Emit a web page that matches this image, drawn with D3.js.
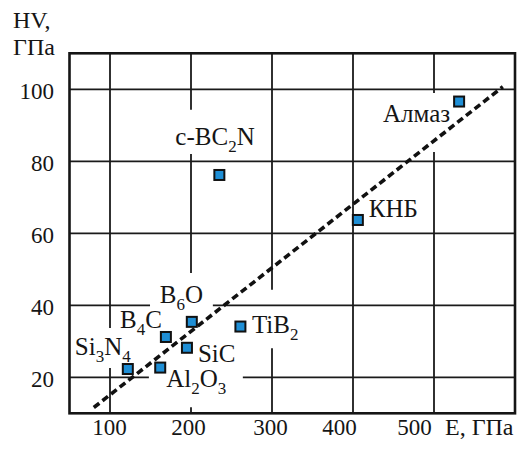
<!DOCTYPE html>
<html>
<head>
<meta charset="utf-8">
<script src="https://cdn.jsdelivr.net/npm/d3@7"></script>
<style>
  html, body { margin: 0; padding: 0; background: #fff; }
</style>
</head>
<body>
<svg id="chart" width="527" height="452"></svg>
<script>
// data
const names = ["Si3N4", "Al2O3", "B4C", "SiC", "B6O", "TiB2", "c-BC2N", "КНБ", "Алмаз"];
const modulusE = [122, 162, 169, 195, 201, 261, 235, 406, 531];
const hardnessHV = [22.3, 22.7, 31.2, 28.2, 35.4, 34.1, 76.2, 63.7, 96.6];
const trendE = [80, 585];
const trendHV = [11.6, 100.7];
const xTicks = [100, 200, 300, 400, 500];
const yTicks = [20, 40, 60, 80, 100];
// gridlines are broken where labels sit: [axis, value, from, to]
const gridBreaks = [
  ["x", 100, 22.6, 33.7],
  ["x", 200, 82, 94.3],
  ["x", 200, 11.7, 49],
  ["x", 300, 28.1, 44.3],
  ["x", 500, 82.6, 99],
  ["y", 40, 149.4, 227],
  ["y", 20, 148, 264]
];

const FONT = "Liberation Serif, Times New Roman, DejaVu Serif, Liberation Sans, sans-serif";
const INK = "#151515";

const svg = d3.select("#chart");
const x = d3.scaleLinear().domain([50, 600]).range([69.5, 515]);
const y = d3.scaleLinear().domain([10, 110]).range([413.3, 53.3]);

// label placement relative to the marker
const labelPos = {
  "Si3N4":  { dx: -53, dy: -14, anchor: "start" },
  "Al2O3":  { dx: 6, dy: 19.5, anchor: "start" },
  "B4C":    { dx: -4, dy: -9, anchor: "end" },
  "SiC":    { dx: 11, dy: 14, anchor: "start" },
  "B6O":    { dx: -32, dy: -19, anchor: "start" },
  "TiB2":   { dx: 11.5, dy: 6, anchor: "start" },
  "c-BC2N": { dx: -44, dy: -30, anchor: "start" },
  "КНБ":    { dx: 11, dy: -3, anchor: "start" },
  "Алмаз":  { dx: -9, dy: 20, anchor: "end" }
};

const points = names.map((n, i) => ({ name: n, e: modulusE[i], hv: hardnessHV[i] }));

// split one gridline into segments around its breaks
function segments(axis, v, lo, hi) {
  const br = gridBreaks.filter(b => b[0] === axis && b[1] === v).sort((a, b) => a[2] - b[2]);
  const out = [];
  let start = lo;
  br.forEach(b => { out.push([start, b[2]]); start = b[3]; });
  out.push([start, hi]);
  return out;
}

const grid = svg.append("g").attr("stroke", "#1a1a1a").attr("stroke-width", 1.8);
xTicks.forEach(t => {
  segments("x", t, 10, 110).forEach(s => {
    grid.append("line").attr("x1", x(t)).attr("x2", x(t)).attr("y1", y(s[0])).attr("y2", y(s[1]));
  });
});
yTicks.forEach(t => {
  segments("y", t, 50, 600).forEach(s => {
    grid.append("line").attr("y1", y(t)).attr("y2", y(t)).attr("x1", x(s[0])).attr("x2", x(s[1]));
  });
});

// frame
svg.append("rect")
  .attr("x", x(50)).attr("y", y(110))
  .attr("width", x(600) - x(50)).attr("height", y(10) - y(110))
  .attr("fill", "none").attr("stroke", INK).attr("stroke-width", 2.6);

// tick labels
const xShift = { 100: -1, 200: -3, 300: -2, 400: -14, 500: -20 };
const xAxis = svg.append("g").attr("transform", `translate(0,${y(10)})`)
  .call(d3.axisBottom(x).tickValues(xTicks).tickSize(0).tickPadding(0).tickFormat(d3.format("d")))
  .attr("font-family", FONT).attr("font-size", 23);
xAxis.select(".domain").remove();
xAxis.selectAll("text")
  .attr("fill", INK)
  .attr("y", 22).attr("dy", 0)
  .attr("dx", d => xShift[d]);

const yAxis = svg.append("g").attr("transform", `translate(54,0)`)
  .call(d3.axisLeft(y).tickValues(yTicks).tickSize(0).tickPadding(0).tickFormat(d3.format("d")))
  .attr("font-family", FONT).attr("font-size", 23);
yAxis.select(".domain").remove();
yAxis.selectAll("text")
  .attr("fill", INK)
  .attr("x", 0).attr("dy", "0.38em");

// axis titles
const titles = svg.append("g").attr("font-family", FONT).attr("font-size", 24).attr("fill", INK);
titles.append("text").attr("x", 13).attr("y", 28).text("HV,");
titles.append("text").attr("x", 13).attr("y", 55).text("ГПа");
titles.append("text").attr("x", 445).attr("y", 435).text("E, ГПа");

// trend line
svg.append("line")
  .attr("x1", x(trendE[0])).attr("y1", y(trendHV[0]))
  .attr("x2", x(trendE[1])).attr("y2", y(trendHV[1]))
  .attr("stroke", "#111").attr("stroke-width", 3.6)
  .attr("stroke-dasharray", "7,4");

// markers
svg.append("g").selectAll("rect").data(points).enter().append("rect")
  .attr("x", d => x(d.e) - 5).attr("y", d => y(d.hv) - 5)
  .attr("width", 10).attr("height", 10)
  .attr("fill", "#1f8fd6").attr("stroke", "#111").attr("stroke-width", 2);

// labels with subscripts for digits
const labels = svg.append("g").attr("font-family", FONT).attr("fill", INK)
  .selectAll("text").data(points).enter().append("text")
  .attr("x", d => x(d.e) + labelPos[d.name].dx)
  .attr("y", d => y(d.hv) + labelPos[d.name].dy)
  .attr("text-anchor", d => labelPos[d.name].anchor)
  .attr("font-size", 25);

labels.each(function(d) {
  const t = d3.select(this);
  let low = false;
  d.name.split(/(\d+)/).filter(p => p.length).forEach(p => {
    const isSub = /^\d+$/.test(p);
    const span = t.append("tspan").text(p);
    if (isSub) {
      span.attr("font-size", 17).attr("dy", low ? 0 : 7);
      low = true;
    } else {
      if (low) span.attr("dy", -7);
      low = false;
    }
  });
});
</script>
</body>
</html>
